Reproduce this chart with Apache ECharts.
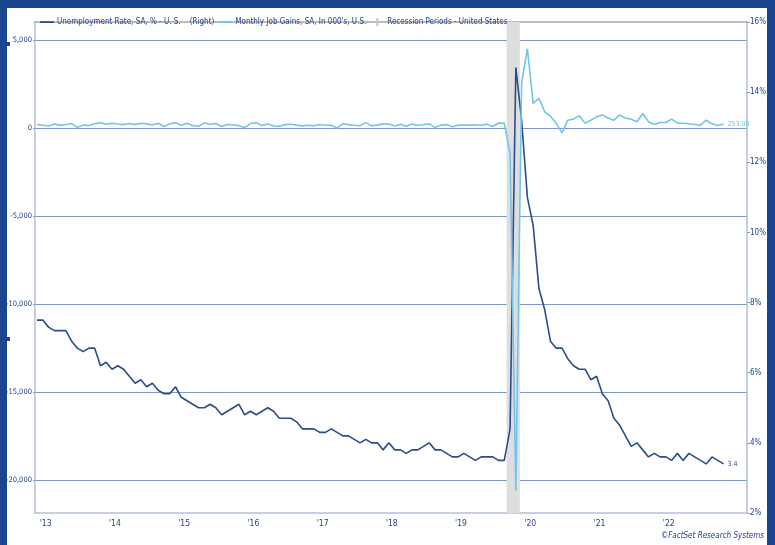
<!DOCTYPE html>
<html><head><meta charset="utf-8">
<script src="https://cdn.jsdelivr.net/npm/echarts@6/dist/echarts.min.js"></script>
<style>html,body{margin:0;padding:0;background:#fff}#c{width:775px;height:545px}</style>
</head><body><div id="c"></div>
<script>
const months = [
 '2013-05','2013-06','2013-07','2013-08','2013-09','2013-10','2013-11','2013-12',
 '2014-01','2014-02','2014-03','2014-04','2014-05','2014-06','2014-07','2014-08','2014-09','2014-10','2014-11','2014-12',
 '2015-01','2015-02','2015-03','2015-04','2015-05','2015-06','2015-07','2015-08','2015-09','2015-10','2015-11','2015-12',
 '2016-01','2016-02','2016-03','2016-04','2016-05','2016-06','2016-07','2016-08','2016-09','2016-10','2016-11','2016-12',
 '2017-01','2017-02','2017-03','2017-04','2017-05','2017-06','2017-07','2017-08','2017-09','2017-10','2017-11','2017-12',
 '2018-01','2018-02','2018-03','2018-04','2018-05','2018-06','2018-07','2018-08','2018-09','2018-10','2018-11','2018-12',
 '2019-01','2019-02','2019-03','2019-04','2019-05','2019-06','2019-07','2019-08','2019-09','2019-10','2019-11','2019-12',
 '2020-01','2020-02','2020-03','2020-04','2020-05','2020-06','2020-07','2020-08','2020-09','2020-10','2020-11','2020-12',
 '2021-01','2021-02','2021-03','2021-04','2021-05','2021-06','2021-07','2021-08','2021-09','2021-10','2021-11','2021-12',
 '2022-01','2022-02','2022-03','2022-04','2022-05','2022-06','2022-07','2022-08','2022-09','2022-10','2022-11','2022-12',
 '2023-01','2023-02','2023-03','2023-04'
];
const unemployment = [
 7.5,7.5,7.3,7.2,7.2,7.2,6.9,6.7,
 6.6,6.7,6.7,6.2,6.3,6.1,6.2,6.1,5.9,5.7,5.8,5.6,
 5.7,5.5,5.4,5.4,5.6,5.3,5.2,5.1,5.0,5.0,5.1,5.0,
 4.8,4.9,5.0,5.1,4.8,4.9,4.8,4.9,5.0,4.9,4.7,4.7,
 4.7,4.6,4.4,4.4,4.4,4.3,4.3,4.4,4.3,4.2,4.2,4.1,
 4.0,4.1,4.0,4.0,3.8,4.0,3.8,3.8,3.7,3.8,3.8,3.9,
 4.0,3.8,3.8,3.7,3.6,3.6,3.7,3.6,3.5,3.6,3.6,3.6,
 3.5,3.5,4.4,14.7,13.2,11.0,10.2,8.4,7.8,6.9,6.7,6.7,
 6.4,6.2,6.1,6.1,5.8,5.9,5.4,5.2,4.7,4.5,4.2,3.9,
 4.0,3.8,3.6,3.7,3.6,3.6,3.5,3.7,3.5,3.7,3.6,3.5,
 3.4,3.6,3.5,3.4
];
const jobGains = [
 220,180,140,250,190,230,280,60,
 190,170,270,330,240,300,250,220,280,220,300,260,
 200,300,110,260,320,180,290,160,130,310,240,280,
 110,230,210,160,50,280,320,170,260,140,120,220,
 240,190,150,180,150,230,180,180,20,260,220,180,
 160,330,150,190,260,250,140,240,130,250,170,230,
 260,50,190,230,90,200,190,190,210,180,240,110,
 310,300,-1400,-20600,2570,4530,1430,1710,950,700,290,-250,
 470,530,720,290,470,660,760,600,470,760,600,520,
 380,850,380,230,340,340,530,300,300,270,230,190,
 470,265,165,253
];
const yearTicks = ['2013','2014','2015','2016','2017','2018','2019','2020','2021','2022'];
const leftTicks = [-20000,-15000,-10000,-5000,0,5000];
const recession = ['2020-02','2020-04'];

const seriesNames = ['Unemployment Rate, SA, % - U. S.    (Right)', "Monthly Job Gains, SA, In 000's, U.S.", 'Recession Periods - United States'];

const NAVY = '#2b4c8f', LIGHT = '#72c5ea', TXT = '#24418a';
const FONT = "'Liberation Sans Narrow', 'DejaVu Sans Condensed', 'Arial Narrow', sans-serif";

const y0 = +months[0].slice(0,4), m0 = +months[0].slice(5,7);
function idx(s){ return (+s.slice(0,4) - y0) * 12 + (+s.slice(5,7) - m0); }
const yearPos = yearTicks.map(y => idx(y + '-01') + 5.5);
const uData = unemployment.map((v,i) => [idx(months[i]), v]);
const jData = jobGains.map((v,i) => [idx(months[i]), v]);

const lineIcon = 'path://M0,0h0.01v0.01h-0.01z M0,4.3h14v1.6h-14z M13.99,9.99h0.01v0.01h-0.01z';
const barIcon = 'path://M0,0h0.01v0.01h-0.01z M6,1h2v8h-2z M13.99,9.99h0.01v0.01h-0.01z';

const chart = echarts.init(document.getElementById('c'), null, {renderer:'canvas'});
chart.setOption({
  animation:false,
  textStyle:{fontFamily:FONT},
  grid:{left:35, right:28, top:22, bottom:32},
  legend:{
    left:35, top:12, itemWidth:14, itemHeight:10, itemGap:4,
    textStyle:{color:TXT, fontSize:8, fontFamily:FONT, padding:[0,0,0,-2]},
    data:[
      {name:seriesNames[0], icon:lineIcon},
      {name:seriesNames[1], icon:lineIcon},
      {name:seriesNames[2], icon:barIcon}
    ]
  },
  xAxis:[{
    type:'value', min:-0.35, max:123.07,
    splitLine:{show:false},
    axisLine:{show:true, onZero:false, lineStyle:{color:'#b3c1dd', width:1.5}},
    axisTick:{show:false},
    axisLabel:{customValues:yearPos, color:TXT, fontSize:8.5, margin:6,
      formatter:v => { const k = yearPos.findIndex(p => Math.abs(p - v) < 0.01); return k >= 0 ? "'" + yearTicks[k].slice(2) : ''; }}
  },{
    type:'value', position:'top', min:-0.35, max:123.07,
    splitLine:{show:false}, axisTick:{show:false}, axisLabel:{show:false},
    axisLine:{show:true, onZero:false, lineStyle:{color:'#a8a8a8', width:1.5}}
  }],
  yAxis:[
    {type:'value', min:-21850, max:6050, position:'left',
      axisLine:{show:true, onZero:false, lineStyle:{color:'#b3c1dd', width:1.5}},
      axisTick:{show:true, length:2, customValues:leftTicks, lineStyle:{color:'#8aa0cc'}},
      axisLabel:{customValues:leftTicks, color:TXT, fontSize:7.5, margin:3, formatter:v => v.toLocaleString('en-US')},
      splitLine:{show:true, lineStyle:{color:'#7d96c6', width:1}}
    },
    {type:'value', min:2, max:16, interval:2, position:'right',
      axisLine:{show:true, onZero:false, lineStyle:{color:'#b3c1dd', width:1.5}},
      axisTick:{show:true, length:3, lineStyle:{color:'#8aa0cc'}},
      axisLabel:{color:TXT, fontSize:8, margin:3, formatter:v => v + '%'},
      splitLine:{show:false}
    }
  ],
  series:[
    {name:seriesNames[2], type:'line', data:[], xAxisIndex:0, yAxisIndex:0,
      itemStyle:{color:'#c4c4c4'}, lineStyle:{color:'#c4c4c4'},
      markArea:{silent:true, itemStyle:{color:'#dedede'},
        data:[[{xAxis:idx(recession[0]) + 0.4}, {xAxis:idx(recession[1]) + 0.7}]]}
    },
    {name:seriesNames[0], type:'line', data:uData, yAxisIndex:1, showSymbol:false,
      itemStyle:{color:NAVY}, lineStyle:{color:NAVY, width:1.6}, z:3,
      endLabel:{show:true, formatter:p => p.value[1].toFixed(1), color:NAVY, fontSize:7, distance:4}
    },
    {name:seriesNames[1], type:'line', data:jData, yAxisIndex:0, showSymbol:false,
      itemStyle:{color:LIGHT}, lineStyle:{color:LIGHT, width:1.6}, z:4,
      endLabel:{show:true, formatter:p => p.value[1].toFixed(2), color:LIGHT, fontSize:7, distance:4}
    }
  ],
  graphic:[
    {type:'rect', silent:true, z:-10, shape:{x:0, y:0, width:775, height:8}, style:{fill:'#1c4590'}},
    {type:'rect', silent:true, z:-10, shape:{x:0, y:0, width:7, height:545}, style:{fill:'#1c4590'}},
    {type:'rect', silent:true, z:-10, shape:{x:0, y:42, width:10, height:4}, style:{fill:'#1c4590'}},
    {type:'rect', silent:true, z:-10, shape:{x:0, y:337, width:10, height:4}, style:{fill:'#1c4590'}},
    {type:'rect', silent:true, z:-10, shape:{x:767, y:0, width:8, height:545}, style:{fill:'#1c4590'}},
    {type:'text', silent:true, right:11, bottom:5,
      style:{text:'©FactSet Research Systems', fill:TXT, font:"italic 8px " + FONT}}
  ]
});
</script></body></html>
